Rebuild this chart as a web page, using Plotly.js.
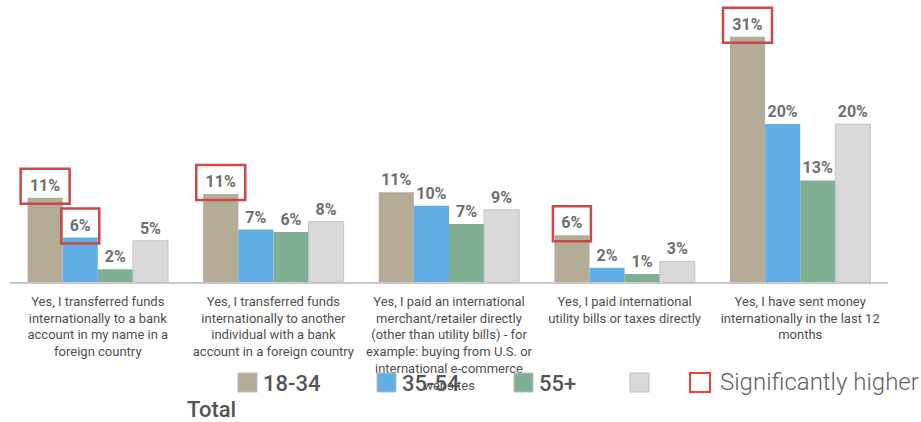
<!DOCTYPE html>
<html>
<head>
<meta charset="utf-8">
<script src="https://cdn.plot.ly/plotly-3.0.1.min.js"></script>
<style>html,body{margin:0;padding:0;background:#fff;}#chart{width:921px;height:422px;}</style>
</head>
<body>
<div id="chart"></div>
<script>
// ---- data ----
var categories = ["transfer_own", "transfer_other", "merchant", "utility", "sent_money"];
var tickLabels = [
  "Yes, I transferred funds<br>internationally to a bank<br>account in my name in a<br>foreign country",
  "Yes, I transferred funds<br>internationally to another<br>individual with a bank<br>account in a foreign country",
  "Yes, I paid an international<br>merchant/retailer directly<br>(other than utility bills) - for<br>example: buying from U.S. or<br>international e-commerce<br>websites",
  "Yes, I paid international<br>utility bills or taxes directly",
  "Yes, I have sent money<br>internationally in the last 12<br>months"
];
var seriesNames = ["18-34", "35-54", "55+", "Total"];
var v1834 = [10.6, 11.1, 11.3, 5.9, 30.9];
var v3554 = [5.6, 6.6, 9.6, 1.8, 19.9];
var v55plus = [1.6, 6.3, 7.3, 1.0, 12.8];
var vTotal = [5.2, 7.6, 9.1, 2.6, 19.9];
var sig1834 = [1, 1, 0, 1, 1];
var sig3554 = [1, 0, 0, 0, 0];
var sig55plus = [0, 0, 0, 0, 0];
var sigTotal = [0, 0, 0, 0, 0];
var legendNote = "Significantly higher";

// ---- styles ----
var colors = ["#b4ac97", "#63aee4", "#80af94", "#d9d9d9"];
var values = [v1834, v3554, v55plus, vTotal];
var sigs = [sig1834, sig3554, sig55plus, sigTotal];

var W = 921, H = 422;
var M = {l: 10, r: 33, t: 5, b: 140};
var plotW = W - M.l - M.r, plotH = H - M.t - M.b;
var yMax = 34.9;
function px(x) { return (x - M.l) / plotW; }
function py(y) { return (H - M.b - y) / plotH; }

var traces = values.map(function (vals, j) {
  return {
    type: "bar",
    name: seriesNames[j],
    x: categories,
    y: vals,
    marker: {color: colors[j], line: {color: j === 3 ? "#c4c4c4" : "rgba(0,0,0,0)", width: j === 3 ? 1 : 0}},
    texttemplate: "%{y:.0f}%",
    textposition: "outside",
    cliponaxis: false,
    textfont: {family: "Roboto, sans-serif", size: 16, color: "#6e6e6e", weight: "bold"},
    showlegend: false,
    hoverinfo: "skip"
  };
});

var bargap = 0.2;
var barW = (1 - bargap) / values.length;
var catPx = plotW / categories.length;
var unitPerPx = yMax / plotH;
var shapes = [];
sigs.forEach(function (s, j) {
  s.forEach(function (flag, i) {
    if (!flag) return;
    var off = -(1 - bargap) / 2 + barW * (j + 0.5);
    var label = Math.round(values[j][i]) + "%";
    var halfW = (16 + 11 * label.length) / 2 / catPx;
    shapes.push({
      type: "rect", xref: "x", yref: "y",
      x0: i + off - halfW, x1: i + off + halfW,
      y0: values[j][i] - 6 * unitPerPx, y1: values[j][i] + 29 * unitPerPx,
      line: {color: "#c9484a", width: 2.5}, fillcolor: "rgba(0,0,0,0)"
    });
  });
});

// custom legend
var legendItems = [
  {x: 238, label: seriesNames[0], color: colors[0]},
  {x: 377, label: seriesNames[1], color: colors[1]},
  {x: 514, label: seriesNames[2], color: colors[2]},
  {x: 630, label: "", color: colors[3]}
];
var annotations = [];
legendItems.forEach(function (it) {
  shapes.push({type: "rect", xref: "paper", yref: "paper",
    x0: px(it.x), x1: px(it.x + 19), y0: py(392), y1: py(373),
    fillcolor: it.color, line: {color: "#bdbdbd", width: 1}});
  if (it.label) annotations.push({xref: "paper", yref: "paper", x: px(it.x + 23), y: py(383),
    xanchor: "left", yanchor: "middle", showarrow: false, text: it.label,
    font: {family: "Roboto, sans-serif", size: 22, color: "#555555", weight: 500}});
});
shapes.push({type: "rect", xref: "paper", yref: "paper",
  x0: px(690), x1: px(710), y0: py(392), y1: py(373),
  fillcolor: "rgba(0,0,0,0)", line: {color: "#f0413c", width: 2}});
annotations.push({xref: "paper", yref: "paper", x: px(718), y: py(382),
  xanchor: "left", yanchor: "middle", showarrow: false, text: legendNote,
  font: {family: "Roboto, sans-serif", size: 24, color: "#5f5f5f", weight: 300}});
annotations.push({xref: "paper", yref: "paper", x: px(185), y: py(409),
  xanchor: "left", yanchor: "middle", showarrow: false, text: seriesNames[3],
  font: {family: "Roboto, sans-serif", size: 22, color: "#555555", weight: 500}});

var layout = {
  width: W, height: H,
  margin: M,
  paper_bgcolor: "#ffffff", plot_bgcolor: "#ffffff",
  barmode: "group", bargap: bargap, bargroupgap: 0,
  showlegend: false,
  xaxis: {
    type: "category",
    tickvals: categories, ticktext: tickLabels,
    showline: true, linecolor: "#c8c8c8", linewidth: 2,
    ticks: "", showgrid: false, zeroline: false,
    ticklabelstandoff: 6,
    tickfont: {family: "Roboto, sans-serif", size: 13, color: "#4f4f4f"},
    fixedrange: true, automargin: false
  },
  yaxis: {
    range: [0, yMax], showgrid: false, zeroline: false,
    showticklabels: false, ticks: "", showline: false, fixedrange: true
  },
  shapes: shapes,
  annotations: annotations,
  font: {family: "Roboto, sans-serif"}
};

Plotly.newPlot("chart", traces, layout, {displayModeBar: false, staticPlot: true});
</script>
</body>
</html>
